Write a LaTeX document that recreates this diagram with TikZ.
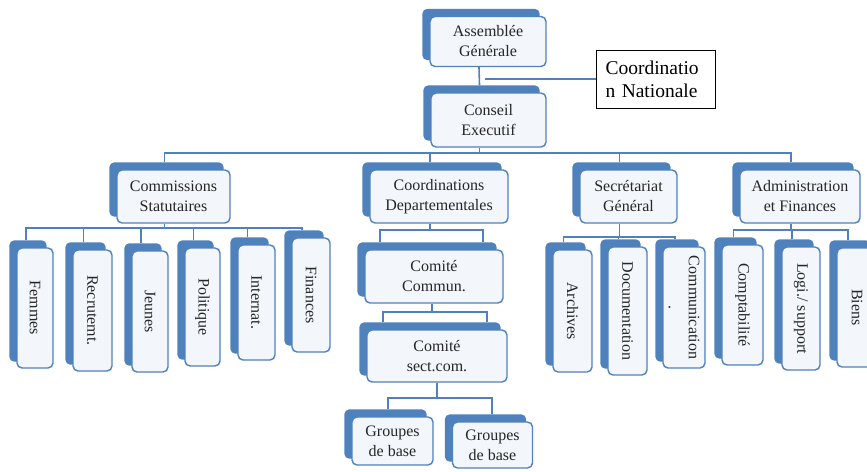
\documentclass[tikz,border=0pt]{standalone}
\usepackage{fontspec}
\setmainfont{Liberation Serif}
\usepackage{tikz}
\usetikzlibrary{backgrounds}
\definecolor{orgblue}{HTML}{4F81BD}
\definecolor{orgpale}{HTML}{F3F6FB}
\tikzset{
  orgbox/.style={draw=orgblue, line width=1.4pt, rounded corners=5pt, fill=orgpale,
    align=center, inner sep=1pt, text=black!85, font=\fontsize{16}{20}\selectfont},
  vbox/.style={orgbox, rotate=-90},
  natbox/.style={draw=black, line width=1pt, fill=white, align=left, text width=101pt,
    inner xsep=9pt, minimum height=58pt, font=\fontsize{19.5}{23}\selectfont},
  link/.style={draw=orgblue, line width=1.6pt}
}

\begin{document}
\begin{tikzpicture}[x=1pt,y=-1pt]
    \useasboundingbox (0,0) rectangle (867,471);
    \clip (0,0) rectangle (867,471);

    % top of the tree
    \node[orgbox, minimum width=116pt, minimum height=50pt] (ag) at (488,41.5) {Assemblée\\Générale};
    \node[orgbox, minimum width=115pt, minimum height=54pt] (ce) at (488.5,120) {Conseil\\Executif};
    \node[natbox] (cn) at (656,79) {Coordinatio\\n Nationale};

    % second level
    \node[orgbox, minimum width=113pt, minimum height=53pt] (cs) at (173.5,196.5) {Commissions\\Statutaires};
    \node[orgbox, minimum width=138pt, minimum height=53pt] (cd) at (439,196.5) {Coordinations\\Departementales};
    \node[orgbox, minimum width=97pt, minimum height=53pt] (sg) at (628.5,196.5) {Secrétariat\\Général};
    \node[orgbox, minimum width=120pt, minimum height=53pt] (af) at (800,196.5) {Administration\\et Finances};

    % commissions
    \node[vbox, minimum width=120pt, minimum height=36pt] (fem) at (35,308) {Femmes};
    \node[vbox, minimum width=121pt, minimum height=39pt] (rec) at (92.5,310.5) {Recrutemt.};
    \node[vbox, minimum width=121pt, minimum height=36pt] (jeu) at (150,311.5) {Jeunes};
    \node[vbox, minimum width=118pt, minimum height=35pt] (pol) at (202.5,307) {Politique};
    \node[vbox, minimum width=115pt, minimum height=37pt] (int) at (256.5,302.5) {Internat.};
    \node[vbox, minimum width=114pt, minimum height=38pt] (fin) at (311,295) {Finances};

    % coordinations
    \node[orgbox, minimum width=138pt, minimum height=53pt] (cc) at (434,276.5) {Comité\\Commun.};
    \node[orgbox, minimum width=140pt, minimum height=52pt] (sc) at (437,356) {Comité\\sect.com.};
    \node[orgbox, minimum width=81pt, minimum height=48pt] (gb1) at (392.5,441) {Groupes\\de base};
    \node[orgbox, minimum width=80pt, minimum height=46pt] (gb2) at (492.5,445) {Groupes\\de base};

    % secretariat
    \node[vbox, minimum width=122pt, minimum height=39pt] (arc) at (572.5,311) {Archives};
    \node[vbox, minimum width=128pt, minimum height=39pt] (doc) at (627.5,311) {Documentation};
    \node[vbox, minimum width=121pt, minimum height=42pt] (com) at (684,307.5) {Communication\\.};

    % administration
    \node[vbox, minimum width=120pt, minimum height=41pt] (cpt) at (742.5,305) {Comptabilité};
    \node[vbox, minimum width=123pt, minimum height=38pt] (log) at (801,308.5) {Logi./ support};
    \node[vbox, minimum width=119pt, minimum height=40pt] (bie) at (857,307.5) {Biens};

    \begin{scope}[on background layer]
      \foreach \b in {ag,ce,cs,cd,sg,af,fem,rec,jeu,pol,int,fin,cc,sc,gb1,gb2,arc,doc,com,cpt,log,bie}
        \fill[orgblue, rounded corners=5pt] ([shift={(-7pt,7pt)}]\b.north west) rectangle ([shift={(-7pt,7pt)}]\b.south east);
    \end{scope}

    % connector ends
    \foreach \b in {ag,ce,cs,cd,sg,af}
      \path ([shift={(-9pt,7pt)}]\b.north) coordinate (\b-t) ([xshift=-9pt]\b.south) coordinate (\b-b);
    \foreach \b in {fem,rec,jeu,pol,int,fin,arc,doc,com,cpt,log,bie}
      \path ([shift={(-9pt,7pt)}]\b.west) coordinate (\b-t);
    \path ([xshift=-2pt]cc.south) coordinate (cc-b) ([xshift=0pt]sc.south) coordinate (sc-b)
      ([shift={(-54pt,7pt)}]cc.north) coordinate (cc-l) ([shift={(49pt,7pt)}]cc.north) coordinate (cc-r)
      ([shift={(-54pt,7pt)}]sc.north) coordinate (sc-l) ([shift={(50pt,7pt)}]sc.north) coordinate (sc-r)
      ([shift={(-4.5pt,7pt)}]gb1.north) coordinate (gb1-t) ([shift={(-0.5pt,7pt)}]gb2.north) coordinate (gb2-t);

    \coordinate (cnend) at (485,79);
    \coordinate (bus1) at (0,153);
    \coordinate (bus2) at (0,228);
    \coordinate (bus3) at (0,230);
    \coordinate (bus4) at (0,312);
    \coordinate (bus5) at (0,398);
    \coordinate (bus6) at (0,237);
    \coordinate (bus7) at (0,230);

    \draw[link] (ag-b) -- (ce-t);
    \draw[link] (cnend) -- (cn.west);

    \draw[link] (ce-b) -- (ce-b |- bus1);
    \draw[link] (cs-t) |- (bus1 -| af-t) -- (af-t);
    \foreach \c in {cd,sg} \draw[link] (\c-t) -- (\c-t |- bus1);

    \draw[link] (cs-b) -- (cs-b |- bus2);
    \draw[link] (fem-t) |- (bus2 -| fin-t) -- (fin-t);
    \foreach \c in {rec,jeu,pol,int} \draw[link] (\c-t) -- (\c-t |- bus2);

    \draw[link] (cd-b) -- (cd-b |- bus3);
    \draw[link] (cc-l) |- (bus3 -| cc-r) -- (cc-r);
    \draw[link] (cc-b) -- (cc-b |- bus4);
    \draw[link] (sc-l) |- (bus4 -| sc-r) -- (sc-r);
    \draw[link] (sc-b) -- (sc-b |- bus5);
    \draw[link] (gb1-t) |- (bus5 -| gb2-t) -- (gb2-t);

    \draw[link] (sg-b) -- (sg-b |- bus6);
    \draw[link] (arc-t) |- (bus6 -| com-t) -- (com-t);
    \draw[link] (doc-t) -- (doc-t |- bus6);

    \draw[link] (af-b) -- (af-b |- bus7);
    \draw[link] (cpt-t) |- (bus7 -| bie-t) -- (bie-t);
    \draw[link] (log-t) -- (log-t |- bus7);
\end{tikzpicture}
\end{document}
